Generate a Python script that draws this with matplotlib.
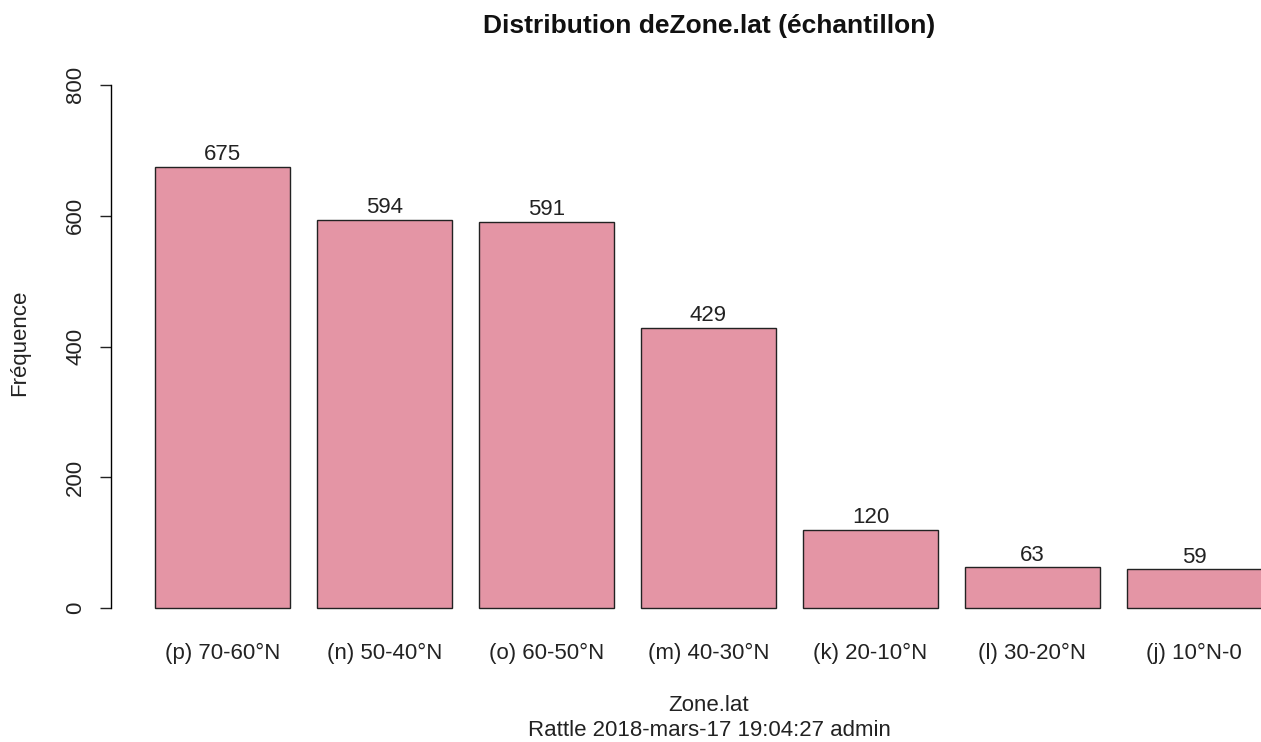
import numpy as np
import matplotlib.pyplot as plt

plt.rcParams["font.family"] = ["Liberation Sans", "DejaVu Sans"]

# Rattle barplot data
zones = ["(p) 70-60°N", "(n) 50-40°N", "(o) 60-50°N", "(m) 40-30°N",
         "(k) 20-10°N", "(l) 30-20°N", "(j) 10°N-0"]
counts = [675, 594, 591, 429, 120, 63, 59]
y_ticks = [0, 200, 400, 600, 800]


def main():
    W, H = 1261, 742
    fig = plt.figure(figsize=(W / 100, H / 100), dpi=100)

    # plot region in pixels (R style, runs past the right edge of the image)
    left, right = 111, 1306
    top, bottom = 64, 629
    ax = fig.add_axes([left / W, 1 - bottom / H, (right - left) / W, (bottom - top) / H])

    # R barplot geometry: width 1, space 0.2
    x = 0.7 + 1.2 * np.arange(len(counts))
    ax.bar(x, counts, width=1.0, color="#E495A5", edgecolor="#222222", linewidth=1.0)

    for xi, c in zip(x, counts):
        ax.annotate(str(c), (xi, c), xytext=(0, 4.5), textcoords="offset points",
                    ha="center", va="baseline", fontsize=16, color="#222222")

    ax.set_xlim(0.2 - 0.328, 8.4 + 0.328)
    ax.set_ylim(-32, 832)

    for s in ["top", "right", "bottom"]:
        ax.spines[s].set_visible(False)
    ax.spines["left"].set_bounds(0, 800)
    ax.spines["left"].set_linewidth(1.0)

    ax.set_yticks(y_ticks)
    ax.set_yticklabels([str(v) for v in y_ticks], rotation=90, va="center")
    ax.tick_params(axis="y", length=8, width=1.0, pad=10, labelsize=16, colors="#222222")

    ax.set_xticks(x)
    ax.set_xticklabels(zones)
    ax.tick_params(axis="x", length=0, pad=10, labelsize=16, colors="#222222")

    fig.text(20 / W, 1 - 343 / H, "Fréquence", rotation=90, ha="center", va="center",
             fontsize=16, color="#222222")
    fig.text(709 / W, 1 - 24 / H, "Distribution deZone.lat (échantillon)", ha="center",
             va="center_baseline", fontsize=19, fontweight="bold", color="#111111")
    fig.text(709 / W, 1 - 703 / H, "Zone.lat", ha="center", va="center_baseline",
             fontsize=16, color="#222222")
    fig.text(709 / W, 1 - 728 / H, "Rattle 2018-mars-17 19:04:27 admin", ha="center",
             va="center_baseline", fontsize=16, color="#222222")

    fig.savefig("out.png", dpi=100)
    plt.close(fig)


if __name__ == "__main__":
    main()
